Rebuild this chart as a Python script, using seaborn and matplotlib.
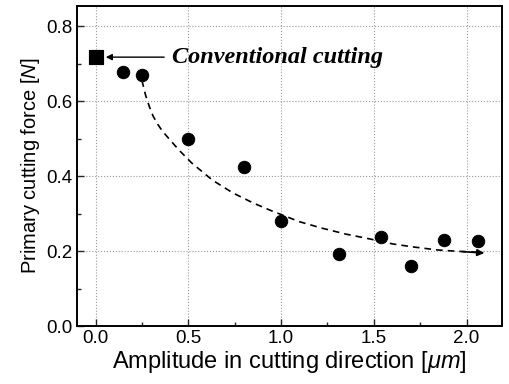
import numpy as np
import pandas as pd
import seaborn as sns
import matplotlib.pyplot as plt

# measured points
amplitude = [0.15, 0.25, 0.50, 0.80, 1.00, 1.31, 1.54, 1.70, 1.88, 2.06]
force = [0.677, 0.669, 0.499, 0.424, 0.280, 0.192, 0.237, 0.160, 0.229, 0.227]

# conventional cutting (no vibration)
conv_amp = [0.0]
conv_force = [0.717]

# dashed trend line
trend_x = [0.25, 0.27, 0.29, 0.31, 0.335, 0.36, 0.40, 0.45, 0.52, 0.63, 0.74, 0.85, 0.94,
           1.10, 1.22, 1.35, 1.48, 1.60, 1.71, 1.84, 1.96, 2.09]
trend_y = [0.655, 0.615, 0.585, 0.560, 0.538, 0.520, 0.497, 0.469, 0.434, 0.389, 0.355,
           0.328, 0.309, 0.278, 0.261, 0.245, 0.232, 0.219, 0.211, 0.203, 0.199, 0.196]

df = pd.DataFrame({'amp': amplitude, 'force': force})
conv = pd.DataFrame({'amp': conv_amp, 'force': conv_force})
trend = pd.DataFrame({'x': trend_x, 'y': trend_y})

sns.set_style('ticks')
plt.rcParams['font.family'] = ['Liberation Sans', 'DejaVu Sans']
plt.rcParams['mathtext.fontset'] = 'custom'
plt.rcParams['mathtext.rm'] = 'Liberation Sans'
plt.rcParams['mathtext.it'] = 'Liberation Sans:italic'

fig, ax = plt.subplots(figsize=(5.1, 3.84), dpi=100)
fig.subplots_adjust(left=0.151, right=0.984, bottom=0.151, top=0.984)

sns.lineplot(data=trend, x='x', y='y', ax=ax, color='black', linestyle=(0, (4, 3)),
             linewidth=1.2, sort=False)
ax.annotate('', xy=(trend_x[-1] + 0.02, trend_y[-1] - 0.002), xytext=(trend_x[-2], trend_y[-2]),
            arrowprops=dict(arrowstyle='-|>', color='black', lw=1.2, mutation_scale=10))
sns.scatterplot(data=df, x='amp', y='force', ax=ax, color='black', s=80,
                edgecolor='black', zorder=3)
sns.scatterplot(data=conv, x='amp', y='force', ax=ax, color='black', marker='s', s=110,
                edgecolor='black', zorder=3)

ax.annotate('Conventional cutting', xy=(0.055, conv_force[0]), xytext=(0.41, conv_force[0]),
            fontsize=17.5, fontweight='bold', fontstyle='italic', family='Liberation Serif',
            va='center', ha='left', color='black',
            arrowprops=dict(arrowstyle='-|>', color='black', lw=1.0, mutation_scale=9,
                            shrinkA=3, shrinkB=0))

ax.set_xlim(-0.10, 2.19)
ax.set_ylim(0, 0.853)
ax.set_xticks([0.0, 0.5, 1.0, 1.5, 2.0])
ax.set_yticks([0.0, 0.2, 0.4, 0.6, 0.8])
ax.set_xticks(np.arange(0.25, 2.2, 0.5), minor=True)
ax.set_yticks(np.arange(0.1, 0.85, 0.2), minor=True)
ax.xaxis.set_major_formatter(plt.FormatStrFormatter('%.1f'))
ax.yaxis.set_major_formatter(plt.FormatStrFormatter('%.1f'))
ax.tick_params(which='both', direction='in', top=False, right=False, labelsize=13.5, pad=3,
               labelcolor='black')
ax.tick_params(which='major', length=5, width=1)
ax.tick_params(which='minor', length=3, width=1)
ax.grid(True, which='major', linestyle=':', color='#999999', linewidth=0.8)

for sp in ax.spines.values():
    sp.set_visible(True)
    sp.set_linewidth(1.4)
    sp.set_color('black')

ax.set_xlabel(r'Amplitude in cutting direction [$\mathit{\mu m}$]', fontsize=17, labelpad=1,
              color='black')
ax.set_ylabel(r'Primary cutting force [$\mathit{N}$]', fontsize=14.5, labelpad=3, color='black')

plt.savefig('out.png', dpi=100)
